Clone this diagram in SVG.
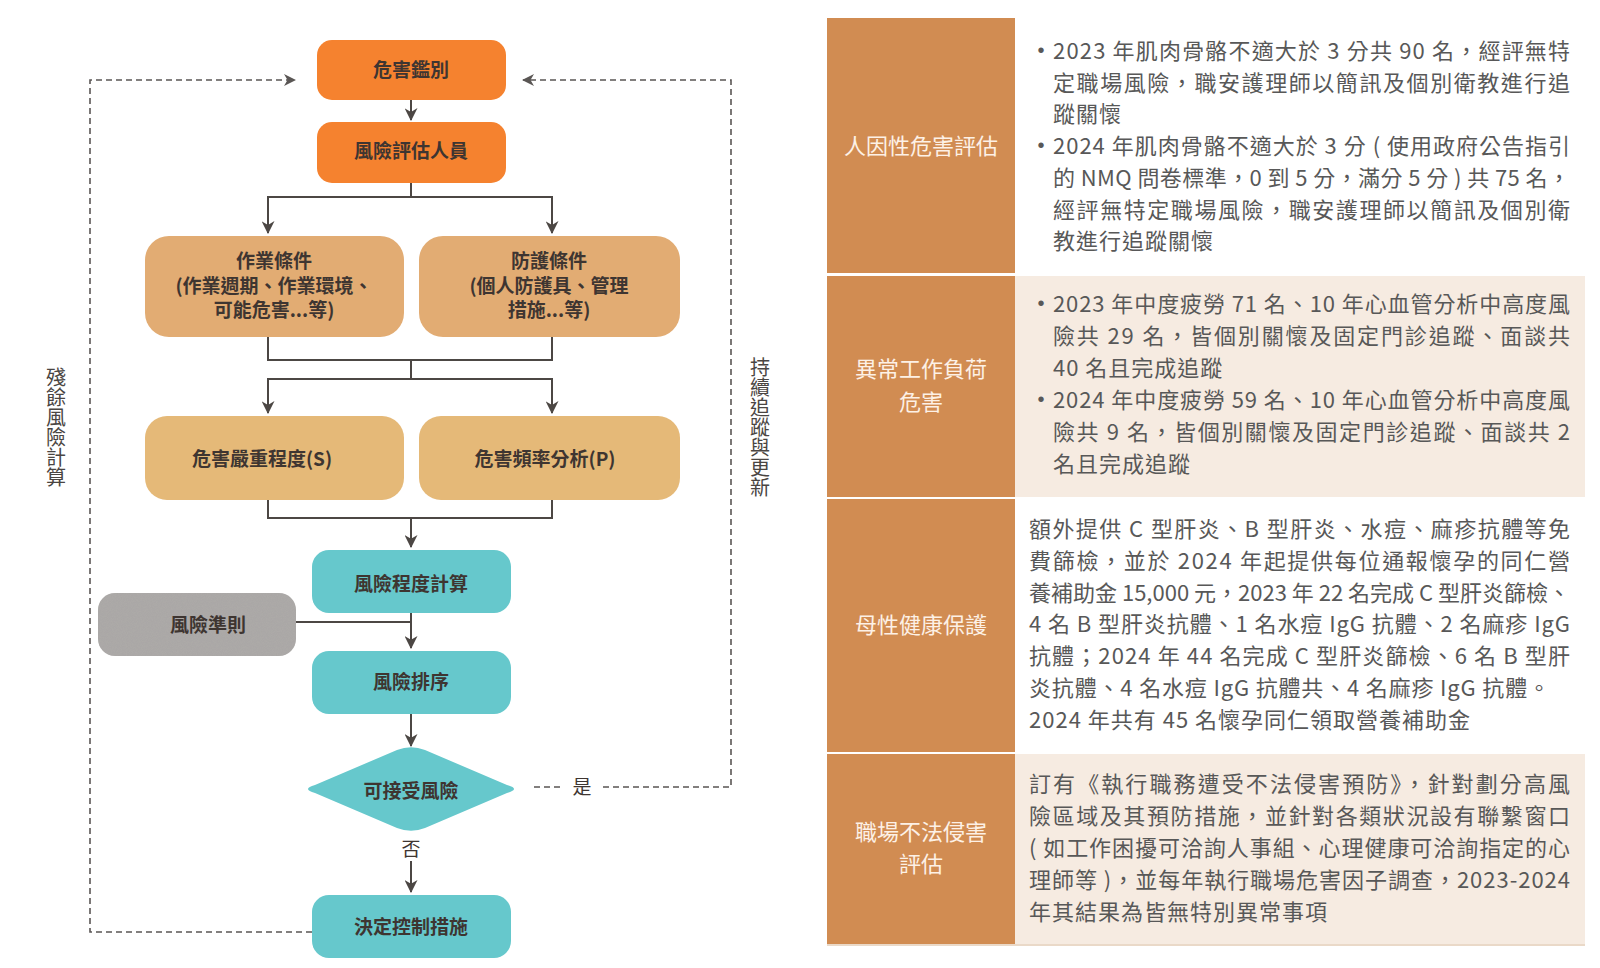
<svg xmlns="http://www.w3.org/2000/svg" width="1600" height="968" viewBox="0 0 1600 968">
<defs>
<style>
.fc{font-family:'Noto Sans CJK TC','Noto Sans CJK SC',sans-serif;font-weight:700;font-size:19px;fill:#3e3531;text-anchor:middle}
.lb{font-family:'Noto Sans CJK TC','Noto Sans CJK SC',sans-serif;font-weight:400;font-size:19px;fill:#3e3531;text-anchor:middle}
.vt{font-family:'Noto Sans CJK TC','Noto Sans CJK SC',sans-serif;font-size:20px;fill:#4a4542;text-anchor:middle;writing-mode:vertical-rl}
.cn{fill:none;stroke:#4c4744;stroke-width:2}
.ds{fill:none;stroke:#5a5654;stroke-width:1.6;stroke-dasharray:6 4}
.hd{font-family:'Noto Sans CJK TC','Noto Sans CJK SC',sans-serif;font-size:22px;fill:#fdf1e6;text-anchor:middle}
.tx{font-family:'Noto Sans CJK TC','Noto Sans CJK SC',sans-serif;font-size:22px;fill:#585858;letter-spacing:1px}
.bu{font-family:'Liberation Sans','DejaVu Sans',sans-serif;font-size:20px;fill:#585858;text-anchor:middle}
.or{fill:#f5822f}
.tn{fill:#e2ac73}
.yl{fill:#e5b978}
.tl{fill:#66c8cc}
.gy{fill:#a9a6a4}
</style>
<marker id="ah" viewBox="0 0 12 12" refX="11" refY="6" markerWidth="13" markerHeight="13" markerUnits="userSpaceOnUse" orient="auto">
<path d="M0,0 L12,6 L0,12 L3.5,6 Z" fill="#4c4744"/>
</marker>
<marker id="ad" viewBox="0 0 12 12" refX="11" refY="6" markerWidth="12" markerHeight="12" markerUnits="userSpaceOnUse" orient="auto">
<path d="M0,0 L12,6 L0,12 L3.5,6 Z" fill="#5a5654"/>
</marker>
<filter id="grain" x="0" y="0" width="1" height="1">
<feTurbulence type="fractalNoise" baseFrequency="1.2" numOctaves="1" seed="3" result="n"/>
<feColorMatrix in="n" type="matrix" values="0 0 0 0 0.45  0 0 0 0 0.44  0 0 0 0 0.43  0 0 0 0.5 0" result="c"/>
<feComposite in="c" in2="SourceGraphic" operator="in" result="m"/>
<feMerge><feMergeNode in="SourceGraphic"/><feMergeNode in="m"/></feMerge>
</filter>
</defs>
<rect width="1600" height="968" fill="#ffffff"/>

<g id="connectors">
<path class="cn" d="M411,100 V120" marker-end="url(#ah)"/>
<path class="cn" d="M411,183 V197"/>
<path class="cn" d="M411,197 H268 V233" marker-end="url(#ah)"/>
<path class="cn" d="M411,197 H552 V233" marker-end="url(#ah)"/>
<path class="cn" d="M268,337 V360 H552 V337"/>
<path class="cn" d="M411,360 V379"/>
<path class="cn" d="M411,379 H268 V413" marker-end="url(#ah)"/>
<path class="cn" d="M411,379 H552 V413" marker-end="url(#ah)"/>
<path class="cn" d="M268,500 V518 H552 V500"/>
<path class="cn" d="M411,518 V547" marker-end="url(#ah)"/>
<path class="cn" d="M411,613 V648" marker-end="url(#ah)"/>
<path class="cn" d="M296,622 H411"/>
<path class="cn" d="M411,714 V746" marker-end="url(#ah)"/>
<path class="cn" d="M411,861 V892" marker-end="url(#ah)"/>
<path class="ds" d="M312,932 H90 V80 H295" marker-end="url(#ad)"/>
<path class="ds" d="M534,787 H564"/>
<path class="ds" d="M603,787 H731 V80 H523" marker-end="url(#ad)"/>
<text class="lb" x="411" y="856">否</text>
<text class="lb" x="582" y="794">是</text>
<text class="vt" x="56" y="427">殘餘風險計算</text>
<text class="vt" x="760" y="427">持續追蹤與更新</text>
</g>

<g id="n-hazard-id">
<rect class="or" x="317" y="40" width="189" height="60" rx="15"/>
<text class="fc" x="411" y="77">危害鑑別</text>
</g>
<g id="n-assessor">
<rect class="or" x="317" y="122" width="189" height="61" rx="15"/>
<text class="fc" x="411" y="158">風險評估人員</text>
</g>
<g id="n-work-cond">
<rect class="tn" x="145" y="236" width="259" height="101" rx="24"/>
<text class="fc" x="274" y="268">作業條件</text>
<text class="fc" x="274" y="293">(作業週期、作業環境、</text>
<text class="fc" x="274" y="317">可能危害...等)</text>
</g>
<g id="n-protect-cond">
<rect class="tn" x="419" y="236" width="261" height="101" rx="24"/>
<text class="fc" x="549" y="268">防護條件</text>
<text class="fc" x="549" y="293">(個人防護具、管理</text>
<text class="fc" x="549" y="317">措施...等)</text>
</g>
<g id="n-severity">
<rect class="yl" x="145" y="416" width="259" height="84" rx="22"/>
<text class="fc" x="262" y="466">危害嚴重程度(S)</text>
</g>
<g id="n-frequency">
<rect class="yl" x="419" y="416" width="261" height="84" rx="22"/>
<text class="fc" x="545" y="466">危害頻率分析(P)</text>
</g>
<g id="n-risk-calc">
<rect class="tl" x="312" y="550" width="199" height="63" rx="17"/>
<text class="fc" x="411" y="591">風險程度計算</text>
</g>
<g id="n-criteria">
<rect class="gy" x="98" y="593" width="198" height="63" rx="17" filter="url(#grain)"/>
<text class="fc" x="208" y="632">風險準則</text>
</g>
<g id="n-ranking">
<rect class="tl" x="312" y="651" width="199" height="63" rx="17"/>
<text class="fc" x="411" y="689">風險排序</text>
</g>
<g id="n-acceptable">
<path class="tl" d="M397,750 Q411,744.5 425,750 L507,785 Q521,789 507,793 L425,828 Q411,833.5 397,828 L315,793 Q301,789 315,785 Z"/>
<text class="fc" x="411" y="798">可接受風險</text>
</g>
<g id="n-control">
<rect class="tl" x="312" y="895" width="199" height="63" rx="17"/>
<text class="fc" x="411" y="934">決定控制措施</text>
</g>

<g id="table">
<rect x="827" y="18" width="188" height="255" fill="#d18c52"/>
<rect x="827" y="276" width="188" height="221" fill="#d18c52"/>
<rect x="827" y="499" width="188" height="253" fill="#d18c52"/>
<rect x="827" y="754" width="188" height="190" fill="#d18c52"/>
<rect x="1015" y="276" width="570" height="221" fill="#f6ebe1"/>
<rect x="1015" y="754" width="570" height="190" fill="#f6ebe1"/>
<line x1="827" y1="945" x2="1585" y2="945" stroke="#ead9c8" stroke-width="2"/>

<text class="hd" x="921" y="154">人因性危害評估</text>
<text class="hd" x="921" y="377">異常工作負荷</text>
<text class="hd" x="921" y="410">危害</text>
<text class="hd" x="921" y="633">母性健康保護</text>
<text class="hd" x="921" y="840">職場不法侵害</text>
<text class="hd" x="921" y="872">評估</text>

<text class="bu" x="1041" y="57">•</text>
<text class="tx" x="1053" y="59" textLength="518" lengthAdjust="spacing">2023 年肌肉骨骼不適大於 3 分共 90 名，經評無特</text>
<text class="tx" x="1053" y="91" textLength="518" lengthAdjust="spacing">定職場風險，職安護理師以簡訊及個別衛教進行追</text>
<text class="tx" x="1053" y="122">蹤關懷</text>
<text class="bu" x="1041" y="152">•</text>
<text class="tx" x="1053" y="154" textLength="518" lengthAdjust="spacing">2024 年肌肉骨骼不適大於 3 分 ( 使用政府公告指引</text>
<text class="tx" x="1053" y="186" textLength="518" lengthAdjust="spacing">的 NMQ 問卷標準，0 到 5 分，滿分 5 分 ) 共 75 名，</text>
<text class="tx" x="1053" y="218" textLength="518" lengthAdjust="spacing">經評無特定職場風險，職安護理師以簡訊及個別衛</text>
<text class="tx" x="1053" y="249">教進行追蹤關懷</text>

<text class="bu" x="1041" y="310">•</text>
<text class="tx" x="1053" y="312" textLength="518" lengthAdjust="spacing">2023 年中度疲勞 71 名、10 年心血管分析中高度風</text>
<text class="tx" x="1053" y="344" textLength="518" lengthAdjust="spacing">險共 29 名，皆個別關懷及固定門診追蹤、面談共</text>
<text class="tx" x="1053" y="376">40 名且完成追蹤</text>
<text class="bu" x="1041" y="406">•</text>
<text class="tx" x="1053" y="408" textLength="518" lengthAdjust="spacing">2024 年中度疲勞 59 名、10 年心血管分析中高度風</text>
<text class="tx" x="1053" y="440" textLength="518" lengthAdjust="spacing">險共 9 名，皆個別關懷及固定門診追蹤、面談共 2</text>
<text class="tx" x="1053" y="472">名且完成追蹤</text>

<text class="tx" x="1029" y="537" textLength="542" lengthAdjust="spacing">額外提供 C 型肝炎、B 型肝炎、水痘、麻疹抗體等免</text>
<text class="tx" x="1029" y="569" textLength="542" lengthAdjust="spacing">費篩檢，並於 2024 年起提供每位通報懷孕的同仁營</text>
<text class="tx" x="1029" y="601" textLength="542" lengthAdjust="spacing">養補助金 15,000 元，2023 年 22 名完成 C 型肝炎篩檢、</text>
<text class="tx" x="1029" y="632" textLength="542" lengthAdjust="spacing">4 名 B 型肝炎抗體、1 名水痘 IgG 抗體、2 名麻疹 IgG</text>
<text class="tx" x="1029" y="664" textLength="542" lengthAdjust="spacing">抗體；2024 年 44 名完成 C 型肝炎篩檢、6 名 B 型肝</text>
<text class="tx" x="1029" y="696" textLength="522" lengthAdjust="spacing">炎抗體、4 名水痘 IgG 抗體共、4 名麻疹 IgG 抗體。</text>
<text class="tx" x="1029" y="728">2024 年共有 45 名懷孕同仁領取營養補助金</text>

<text class="tx" x="1029" y="792" textLength="542" lengthAdjust="spacing">訂有《執行職務遭受不法侵害預防》，針對劃分高風</text>
<text class="tx" x="1029" y="824" textLength="542" lengthAdjust="spacing">險區域及其預防措施，並針對各類狀況設有聯繫窗口</text>
<text class="tx" x="1029" y="856" textLength="542" lengthAdjust="spacing">( 如工作困擾可洽詢人事組、心理健康可洽詢指定的心</text>
<text class="tx" x="1029" y="888" textLength="542" lengthAdjust="spacing">理師等 )，並每年執行職場危害因子調查，2023-2024</text>
<text class="tx" x="1029" y="920">年其結果為皆無特別異常事項</text>
</g>
</svg>
